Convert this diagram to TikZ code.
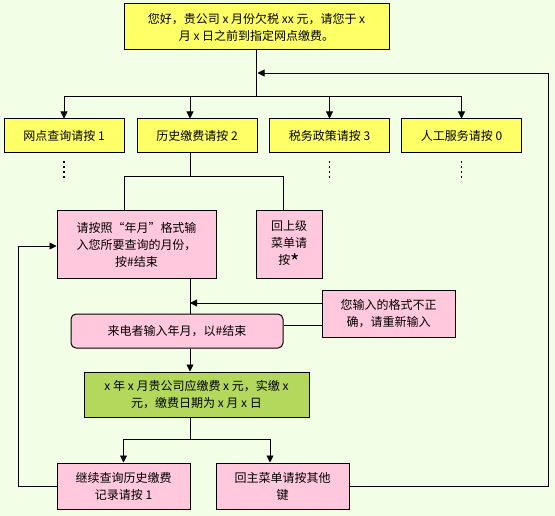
\documentclass[tikz,border=0pt]{standalone}
\usepackage{fontspec}
\setmainfont{Noto Sans CJK SC}
\definecolor{ivrbg}{RGB}{242, 255, 230}
\definecolor{ivryellow}{RGB}{255, 255, 102}
\definecolor{ivrpink}{RGB}{255, 200, 220}
\definecolor{ivrgreen}{RGB}{180, 216, 92}
\usetikzlibrary{arrows.meta, calc}

\tikzset{
    box/.style={draw, line width=1pt, align=center, inner sep=2pt,
        font=\fontsize{12}{17}\selectfont},
    yellowbox/.style={box, fill=ivryellow},
    pinkbox/.style={box, fill=ivrpink},
    greenbox/.style={box, fill=ivrgreen},
    link/.style={line width=0.9pt},
    more/.style={line width=1.6pt, dash pattern=on 2pt off 3pt},
}

\begin{document}
\begin{tikzpicture}[x=1pt, y=-1pt, >={Triangle[length=7pt, width=7pt]}]

% === Fondo ===
\fill[ivrbg] (0,0) rectangle (555,516);
\useasboundingbox (0,0) rectangle (555,516);

% === Saludo ===
\node[yellowbox, minimum width=265pt, minimum height=46pt] (greet) at (256.5, 27)
    {您好，贵公司 x 月份欠税 xx 元，请您于 x\\月 x 日之前到指定网点缴费。};

% === Menu principal ===
\node[yellowbox, minimum width=120pt, minimum height=34pt] (net)   at (64, 136)    {网点查询请按 1};
\node[yellowbox, minimum width=120pt, minimum height=34pt] (hist)  at (197, 136)   {历史缴费请按 2};
\node[yellowbox, minimum width=120pt, minimum height=34pt] (tax)   at (329.5, 136) {税务政策请按 3};
\node[yellowbox, minimum width=120pt, minimum height=34pt] (human) at (461.5, 136) {人工服务请按 0};

% === Historial ===
\node[pinkbox, minimum width=159pt, minimum height=68pt] (askmonth) at (136.5, 245)
    {请按照“年月”格式输\\入您所要查询的月份，\\按\#结束};
\node[pinkbox, minimum width=66pt, minimum height=68pt] (back) at (289, 245)
    {回上级\\菜单请\\按{\fontsize{20}{20}\selectfont\raisebox{-5pt}{*}}};
\node[pinkbox, minimum width=133pt, minimum height=46pt] (wrong) at (388.5, 314)
    {您输入的格式不正\\确，请重新输入};
\node[pinkbox, rounded corners=5pt, minimum width=212pt, minimum height=34pt] (input) at (177, 331)
    {来电者输入年月，以\#结束};
\node[greenbox, minimum width=225pt, minimum height=45pt] (result) at (196.5, 394.5)
    {x 年 x 月贵公司应缴费 x 元，实缴 x\\元，缴费日期为 x 月 x 日};
\node[pinkbox, minimum width=133pt, minimum height=46pt] (again) at (123.5, 486)
    {继续查询历史缴费\\记录请按 1};
\node[pinkbox, minimum width=133pt, minimum height=46pt] (mainmenu) at (282.5, 486)
    {回主菜单请按其他\\键};

% Puntos de ramificacion
\coordinate (bus) at (256.5, 96);
\coordinate (split1) at (190, 176);
\coordinate (trunk) at (190, 303);
\coordinate (split2) at (190, 439);
\coordinate (lloop) at (18, 246);
\coordinate (rloop) at (548, 73);

% === Conectores ===
\draw[line width=1.6pt] (greet.south) -- (bus);
\draw[link, ->] (bus) -| (net);
\draw[link, ->] (bus) -| (hist.north -| split1);
\draw[link, ->] (bus) -| (tax);
\draw[link, ->] (bus) -| (human);

\draw[more] ($(net.south)+(0,8)$) -- ++(0,20);
\draw[more] ($(tax.south)+(0,8)$) -- ++(0,20);
\draw[more] ($(human.south)+(0,8)$) -- ++(0,20);

\draw[link] (hist.south -| split1) -- (split1);
\draw[link] (split1) -| ($(askmonth.north)+(-12.5,0)$);
\draw[link] (split1) -| ($(back.north)+(-6,0)$);

\draw[link] (askmonth.south -| trunk) -- (input.north -| trunk);
\draw[link, ->] (wrong.west |- trunk) -- (trunk);
\draw[link] ($(input.east)+(0,-6)$) -- ($(input.east -| wrong.west)+(0,-6)$);
\draw[link, ->] (input.south -| trunk) -- (result.north -| trunk);

\draw[link] (result.south -| split2) -- (split2);
\draw[link, ->] (split2) -| (again);
\draw[link, ->] (split2) -| ($(mainmenu.north)+(-12.5,0)$);

% Retornos
\draw[link, ->] (again.west) -| (lloop) -- (askmonth.west |- lloop);
\draw[link, ->] (mainmenu.east) -| (rloop) -- ($(rloop -| greet.south)+(1,0)$);

\end{tikzpicture}
\end{document}
